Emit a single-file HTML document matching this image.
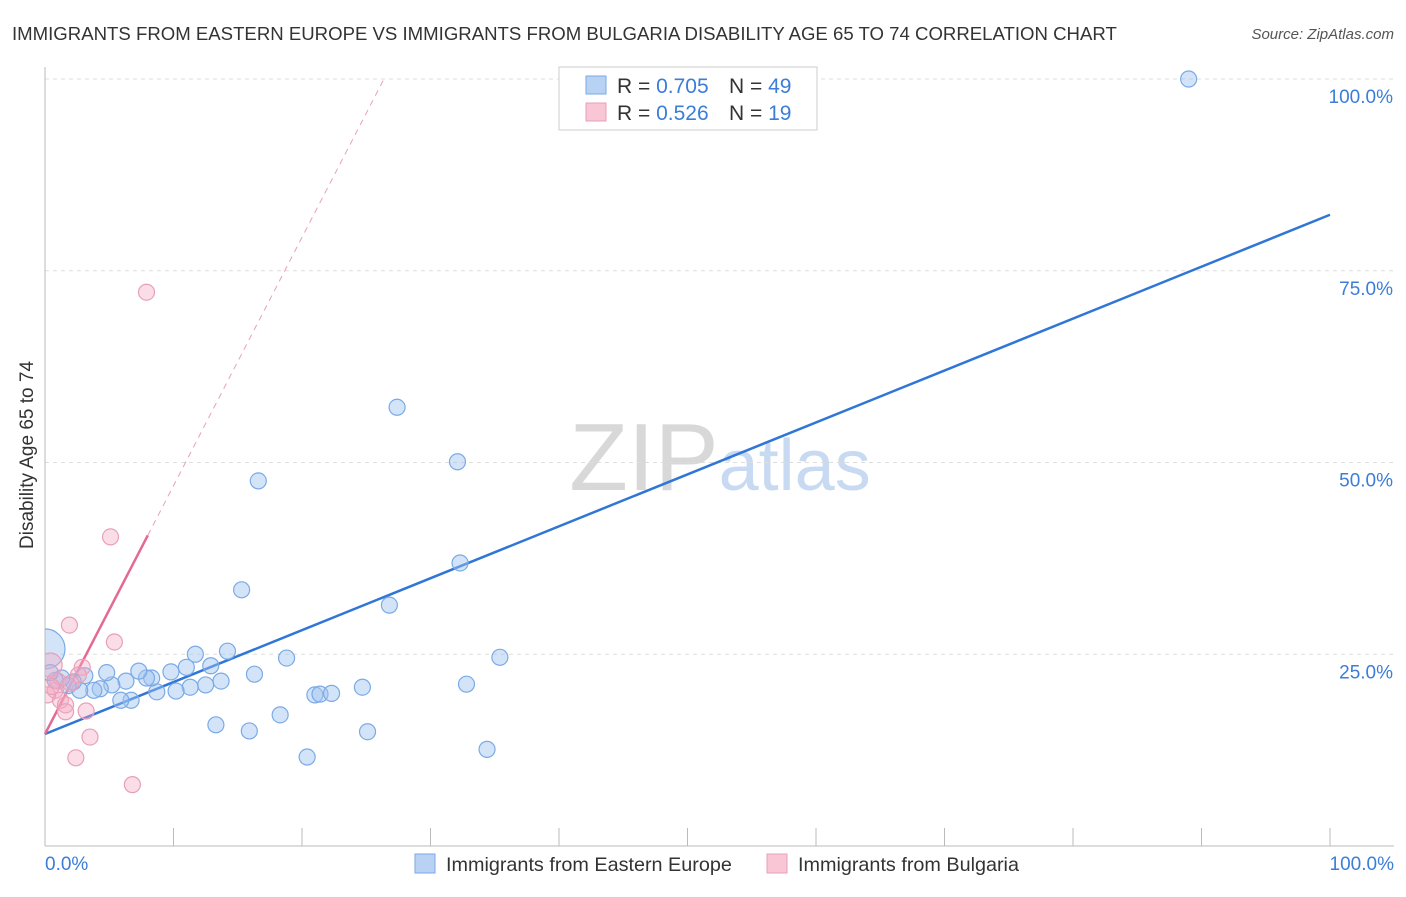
<!DOCTYPE html>
<html><head><meta charset="utf-8">
<style>
body{margin:0;background:#fff;font-family:"Liberation Sans",sans-serif;}
svg text{font-family:"Liberation Sans",sans-serif;}
</style></head>
<body>
<svg width="1406" height="892" viewBox="0 0 1406 892">
<defs><clipPath id="plotclip"><rect x="45" y="60" width="1360" height="786"/></clipPath></defs>
<text x="12" y="40" font-size="18.6" fill="#333">IMMIGRANTS FROM EASTERN EUROPE VS IMMIGRANTS FROM BULGARIA DISABILITY AGE 65 TO 74 CORRELATION CHART</text>
<text x="1394" y="39" font-size="15" fill="#555" font-style="italic" text-anchor="end">Source: ZipAtlas.com</text>
<text x="720" y="490" font-size="96" fill="#d8d8d8" text-anchor="middle" font-family="Liberation Serif">ZIP<tspan fill="#c8daf2" font-family="Liberation Sans" font-size="72">atlas</tspan></text>
<g id="grid"></g>
<g id="axes"></g>
<g id="lines"></g>
<g id="pts" clip-path="url(#plotclip)"></g>
<text x="33" y="455" font-size="19" fill="#333" text-anchor="middle" transform="rotate(-90 33 455)">Disability Age 65 to 74</text>
<g>
<rect x="559" y="67" width="258" height="63" fill="#fff" stroke="#ccc"/>
<rect x="586" y="76" width="20" height="18" fill="#b8d2f4" stroke="#7aaae6"/>
<rect x="586" y="103" width="20" height="18" fill="#f8c6d4" stroke="#e8a0b8"/>
<text x="617" y="93" font-size="21" fill="#333">R = <tspan fill="#3b7dd8">0.705</tspan></text>
<text x="729" y="93" font-size="21" fill="#333">N = <tspan fill="#3b7dd8">49</tspan></text>
<text x="617" y="120" font-size="21" fill="#333">R = <tspan fill="#3b7dd8">0.526</tspan></text>
<text x="729" y="120" font-size="21" fill="#333">N = <tspan fill="#3b7dd8"> 19</tspan></text>
</g>
<g>
<rect x="415" y="854" width="20" height="19" fill="#b8d2f4" stroke="#7aaae6"/>
<text x="446" y="871" font-size="19.8" fill="#333">Immigrants from Eastern Europe</text>
<rect x="767" y="854" width="20" height="19" fill="#f8c6d4" stroke="#e8a0b8"/>
<text x="798" y="871" font-size="19.8" fill="#333">Immigrants from Bulgaria</text>
</g>
</svg>
<script>
const blueX=[89,27.4,32.1,16.6,32.3,15.3,26.8,35.4,32.8,34.4,24.7,25.1,18.8,16.3,18.3,15.9,13.3,20.4,21.0,21.4,22.3,14.2,13.7,12.9,12.5,11.7,11.3,11.0,9.8,10.2,8.7,8.3,7.9,7.3,6.7,6.3,5.9,5.2,4.8,4.3,3.8,3.1,2.7,2.2,1.8,1.3,0.8,0.0,0.4];
const blueY=[100,57.2,50.1,47.6,36.9,33.4,31.4,24.6,21.1,12.6,20.7,14.9,24.5,22.4,17.1,15.0,15.8,11.6,19.7,19.8,19.9,25.4,21.5,23.5,21.0,25.0,20.7,23.3,22.7,20.2,20.1,21.9,21.9,22.8,19.0,21.5,19.0,21.0,22.6,20.5,20.3,22.2,20.3,21.4,20.9,21.9,21.6,25.7,22.6];
const pinkX=[7.9,5.1,1.9,5.4,2.9,0.4,2.6,0.8,1.2,1.6,1.6,3.2,3.5,2.4,6.8,0.2,1.0,0.5,2.0];
const pinkY=[72.2,40.3,28.8,26.6,23.3,23.6,22.3,20.3,19.0,18.4,17.5,17.6,14.2,11.5,8.0,19.7,21.5,20.8,21.2];
const blueLine=[14.6,82.3];
const pinkLine=[14.6,40.5,8.0];
const yTicks=[25,50,75,100];
const xTicks=[0,10,20,30,40,50,60,70,80,90,100];
const NS='http://www.w3.org/2000/svg';
const X=v=>45+v*12.85, Y=v=>846-v*7.67;
function mk(p,t,a){const e=document.createElementNS(NS,t);for(const k in a)e.setAttribute(k,a[k]);document.getElementById(p).appendChild(e);return e;}
yTicks.forEach(t=>{
 const l=mk('grid','line',{x1:45,x2:1394,y1:Y(t),y2:Y(t),stroke:'#ddd','stroke-dasharray':'4 4'});
 
 
 const tx=mk('grid','text',{x:1393,y:Y(t)+24,'font-size':19,fill:'#3b7dd8','text-anchor':'end'});tx.textContent=t+'.0%';
 
 
});
const ax=mk('axes','line',{x1:45,x2:45,y1:67,y2:846,stroke:'#bbb'});


const bx=mk('axes','line',{x1:45,x2:1394,y1:846,y2:846,stroke:'#bbb'});


xTicks.forEach(t=>{
 const l=mk('axes','line',{x1:X(t),x2:X(t),y1:828,y2:846,stroke:'#bbb'});
 
 
});
[[0,'0.0%',45,'start'],[100,'100.0%',1394,'end']].forEach(a=>{
 const t=mk('axes','text',{x:a[2],y:870,'font-size':19,fill:'#3b7dd8','text-anchor':a[3]});t.textContent=a[1];
 
 
});
const bl=mk('lines','line',{x1:X(0),y1:Y(blueLine[0]),x2:X(100),y2:Y(blueLine[1]),stroke:'#2f76d6','stroke-width':2.5});


const slope=(pinkLine[1]-pinkLine[0])/pinkLine[2];
const xEnd=(100-pinkLine[0])/slope;
const pd=mk('lines','line',{x1:X(pinkLine[2]),y1:Y(pinkLine[1]),x2:X(xEnd),y2:Y(100),stroke:'#e8a0b8','stroke-width':1,'stroke-dasharray':'6 5'});


const ps=mk('lines','line',{x1:X(0),y1:Y(pinkLine[0]),x2:X(pinkLine[2]),y2:Y(pinkLine[1]),stroke:'#e46a96','stroke-width':2.5});


blueX.forEach((v,i)=>{
 const r=(i==47)?20:8;
 const c=mk('pts','circle',{cx:X(v),cy:Y(blueY[i]),r:r,fill:'rgba(160,196,240,0.45)',stroke:'#7aaae6','stroke-width':1.2});
 
 
});
pinkX.forEach((v,i)=>{
 const r=(i==5)?12:8;
 const c=mk('pts','circle',{cx:X(v),cy:Y(pinkY[i]),r:r,fill:'rgba(244,170,195,0.4)',stroke:'#e8a0b8','stroke-width':1.2});
 
 
});
</script>
</body></html>
